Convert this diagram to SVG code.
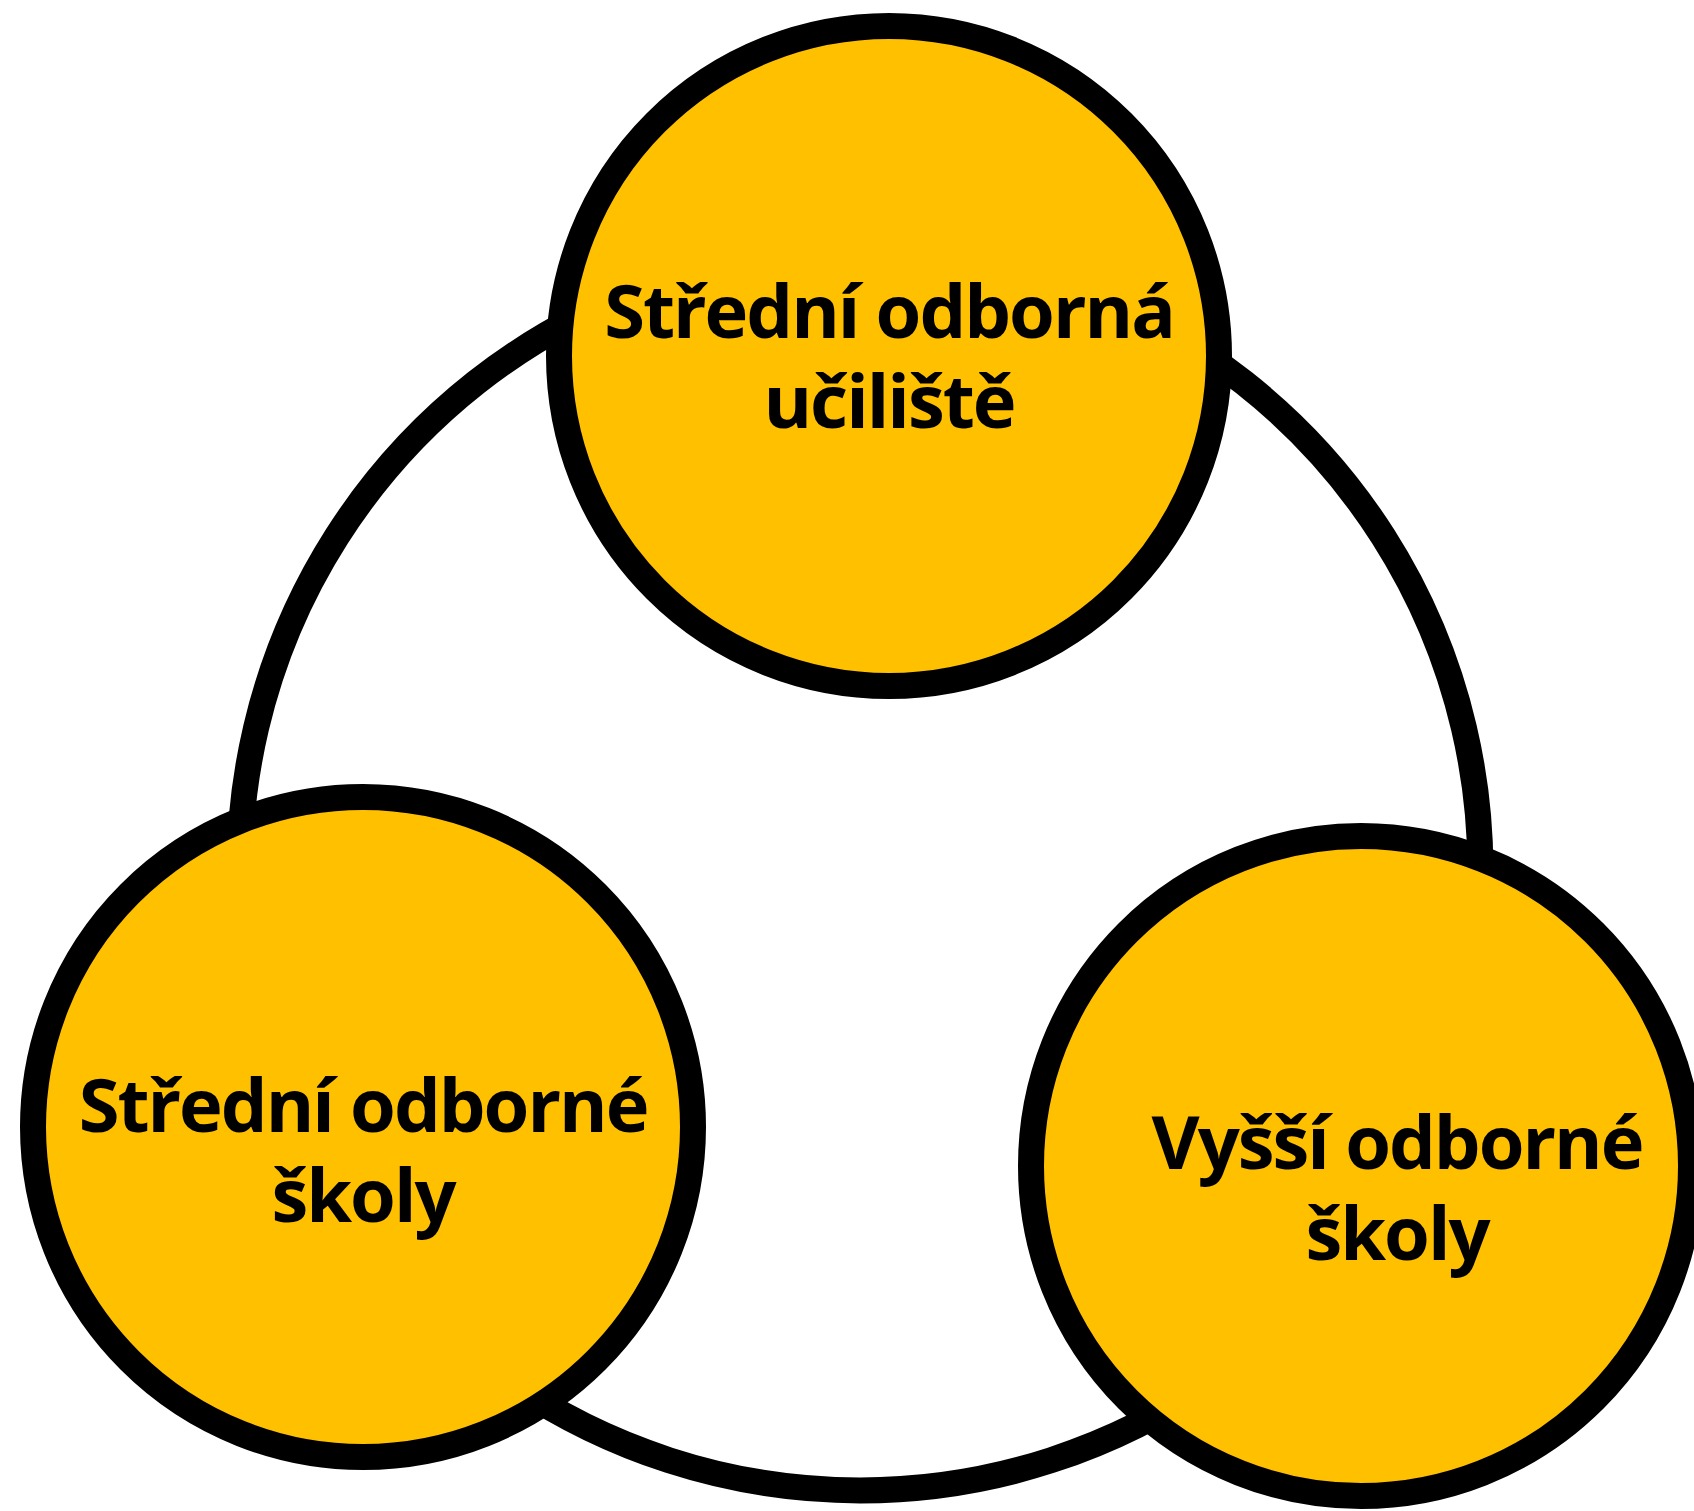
<svg xmlns="http://www.w3.org/2000/svg" width="1694" height="1511" viewBox="0 0 1694 1511">
<style>
.conn{fill:none;stroke:#000;stroke-width:26;stroke-linecap:butt}
.node{fill:#FFC000;stroke:#000;stroke-width:26}
.lbl{font-family:"Open Sans","Noto Sans","Liberation Sans",sans-serif;font-weight:700;font-size:74px;letter-spacing:-2px;fill:#000;text-anchor:middle}
</style>
<rect width="1694" height="1511" fill="#fff"/>
<g id="connectors">
<path class="conn" d="M 648 287 A 620 620 0 0 0 242 924"/>
<path class="conn" d="M 1072 287 A 620 620 0 0 1 1478 924"/>
<path class="conn" d="M 504 1378 A 620 620 0 0 0 1216 1378"/>
</g>
<g id="node-sou">
<circle class="node" cx="889" cy="356" r="330"/>
<text class="lbl" x="889" y="338">Střední odborná<tspan x="889" dy="90">učiliště</tspan></text>
</g>
<g id="node-sos">
<circle class="node" cx="363" cy="1127" r="330"/>
<text class="lbl" x="363" y="1132">Střední odborné<tspan x="363" dy="90">školy</tspan></text>
</g>
<g id="node-vos">
<circle class="node" cx="1361" cy="1166" r="330"/>
<text class="lbl" x="1397" y="1169">Vyšší odborné<tspan x="1397" dy="91">školy</tspan></text>
</g>
</svg>
